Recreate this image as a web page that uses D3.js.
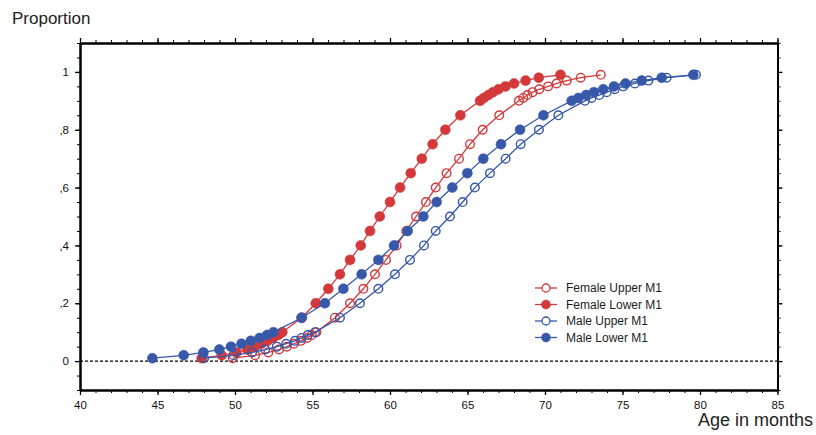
<!DOCTYPE html>
<html>
<head>
<meta charset="utf-8">
<script src="https://cdn.jsdelivr.net/npm/d3@7"></script>
<style>
body { margin: 0; background: #fff; }
svg { font-family: "Liberation Sans", Arial, sans-serif; }
.axis path, .axis line { stroke: #000; }
.axis text { font-size: 11.5px; fill: #111; }
</style>
</head>
<body>
<div id="chart"></div>
<script>
// cumulative proportions, shared by every series
var levels = [0.01, 0.02, 0.03, 0.04, 0.05, 0.06, 0.07, 0.08, 0.09, 0.10,
    0.15, 0.20, 0.25, 0.30, 0.35, 0.40, 0.45, 0.50, 0.55, 0.60, 0.65, 0.70, 0.75, 0.80, 0.85,
    0.90, 0.91, 0.92, 0.93, 0.94, 0.95, 0.96, 0.97, 0.98, 0.99];

// age in months for each level
var femaleUpper = [49.85, 51.3, 52.15, 52.84, 53.35, 53.8, 54.25, 54.65, 54.95, 55.25,
    56.45, 57.42, 58.28, 59.03, 59.74, 60.43, 61.05, 61.68, 62.32, 62.95, 63.65, 64.45, 65.16, 65.98, 67.05,
    68.32, 68.6, 68.86, 69.2, 69.63, 70.2, 70.75, 71.4, 72.3, 73.6];
var femaleLower = [47.85, 49.14, 50.1, 50.8, 51.3, 51.7, 52.1, 52.45, 52.8, 53.05,
    54.3, 55.21, 56.02, 56.77, 57.42, 58.11, 58.71, 59.34, 60.0, 60.65, 61.34, 62.05, 62.75, 63.57, 64.54,
    65.81, 66.05, 66.35, 66.65, 67.0, 67.45, 68.0, 68.75, 69.6, 71.0];
var maleUpper = [48.0, 49.9, 51.1, 51.95, 52.7, 53.3, 53.87, 54.3, 54.7, 55.16,
    56.77, 58.06, 59.25, 60.32, 61.29, 62.19, 62.95, 63.87, 64.69, 65.48, 66.45, 67.46, 68.43, 69.61, 70.86,
    72.58, 73.0, 73.5, 73.98, 74.5, 75.05, 75.8, 76.67, 77.85, 79.74];
var maleLower = [44.67, 46.69, 47.96, 48.99, 49.74, 50.42, 51.02, 51.58, 52.07, 52.48,
    54.3, 55.8, 56.99, 58.17, 59.25, 60.26, 61.14, 62.15, 63.01, 64.02, 64.99, 66.02, 67.16, 68.39, 69.9,
    71.72, 72.15, 72.65, 73.16, 73.76, 74.45, 75.2, 76.24, 77.53, 79.57];

var seriesNames = ["Female Upper M1", "Female Lower M1", "Male Upper M1", "Male Lower M1"];
var seriesAges = [femaleUpper, femaleLower, maleUpper, maleLower];
var seriesColors = ["#d3393a", "#d3393a", "#3757a8", "#3757a8"];
var seriesFilled = [false, true, false, true];

var xTicks = [40, 45, 50, 55, 60, 65, 70, 75, 80, 85];
var yTicks = [0, 0.2, 0.4, 0.6, 0.8, 1];
var yTickLabels = ["0", ",2", ",4", ",6", ",8", "1"];

var width = 816, height = 435;
var plotLeft = 80, plotRight = 777.5, plotTop = 43, plotBottom = 390;

var svg = d3.select("#chart").append("svg")
    .attr("width", width)
    .attr("height", height);

var x = d3.scaleLinear().domain([40, 85]).range([plotLeft, plotRight]);
var y = d3.scaleLinear().domain([-0.1, 1.1]).range([plotBottom, plotTop]);

var xMinor = d3.range(40, 86, 1);
var yMinor = d3.range(-0.1, 1.101, 0.05);

function styleAxis(g, minor) {
    g.attr("class", "axis");
    g.select(".domain").attr("stroke-width", 2);
    g.selectAll(".tick line").attr("stroke-width", minor ? 1 : 1.3);
}

// minor ticks first
svg.append("g").attr("transform", "translate(0," + plotBottom + ")")
    .call(d3.axisBottom(x).tickValues(xMinor).tickSize(3).tickSizeOuter(0).tickFormat(""))
    .call(styleAxis, true);
svg.append("g").attr("transform", "translate(0," + plotTop + ")")
    .call(d3.axisTop(x).tickValues(xMinor).tickSize(3).tickSizeOuter(0).tickFormat(""))
    .call(styleAxis, true);
svg.append("g").attr("transform", "translate(" + plotLeft + ",0)")
    .call(d3.axisLeft(y).tickValues(yMinor).tickSize(3).tickSizeOuter(0).tickFormat(""))
    .call(styleAxis, true);
svg.append("g").attr("transform", "translate(" + plotRight + ",0)")
    .call(d3.axisRight(y).tickValues(yMinor).tickSize(3).tickSizeOuter(0).tickFormat(""))
    .call(styleAxis, true);

// major ticks
svg.append("g").attr("transform", "translate(0," + plotBottom + ")")
    .call(d3.axisBottom(x).tickValues(xTicks).tickSize(5).tickSizeOuter(0).tickPadding(6).tickFormat(d3.format("d")))
    .call(styleAxis, false);
svg.append("g").attr("transform", "translate(0," + plotTop + ")")
    .call(d3.axisTop(x).tickValues(xTicks).tickSize(5).tickSizeOuter(0).tickFormat(""))
    .call(styleAxis, false);
svg.append("g").attr("transform", "translate(" + plotLeft + ",0)")
    .call(d3.axisLeft(y).tickValues(yTicks).tickSize(5).tickSizeOuter(0).tickPadding(6)
        .tickFormat(function(d, i) { return yTickLabels[i]; }))
    .call(styleAxis, false);
svg.append("g").attr("transform", "translate(" + plotRight + ",0)")
    .call(d3.axisRight(y).tickValues(yTicks).tickSize(5).tickSizeOuter(0).tickFormat(""))
    .call(styleAxis, false);

// zero reference line
svg.append("line")
    .attr("x1", plotLeft).attr("x2", plotRight)
    .attr("y1", y(0)).attr("y2", y(0))
    .attr("stroke", "#000")
    .attr("stroke-width", 1.2)
    .attr("stroke-dasharray", "3,2");

// axis titles
svg.append("text")
    .attr("x", 12).attr("y", 24)
    .style("font-size", "17px")
    .attr("fill", "#222")
    .text("Proportion");
svg.append("text")
    .attr("x", 813).attr("y", 426)
    .attr("text-anchor", "end")
    .style("font-size", "18px")
    .attr("fill", "#222")
    .text("Age in months");

var line = d3.line()
    .x(function(d) { return x(d.age); })
    .y(function(d) { return y(d.p); });

seriesAges.forEach(function(ages, s) {
    var data = ages.map(function(a, i) { return { age: a, p: levels[i] }; });
    var g = svg.append("g");
    g.append("path")
        .datum(data)
        .attr("d", line)
        .attr("fill", "none")
        .attr("stroke", seriesColors[s])
        .attr("stroke-width", 1.3);
    g.selectAll("circle")
        .data(data)
        .enter().append("circle")
        .attr("cx", function(d) { return x(d.age); })
        .attr("cy", function(d) { return y(d.p); })
        .attr("r", seriesFilled[s] ? 5 : 4.3)
        .attr("fill", seriesFilled[s] ? seriesColors[s] : "none")
        .attr("stroke", seriesColors[s])
        .attr("stroke-width", seriesFilled[s] ? 0.5 : 1.4);
});

// legend
var legend = svg.append("g").attr("transform", "translate(535,288)");
seriesNames.forEach(function(name, s) {
    var row = legend.append("g").attr("transform", "translate(0," + (s * 16.5) + ")");
    row.append("line")
        .attr("x1", 0).attr("x2", 22)
        .attr("stroke", seriesColors[s])
        .attr("stroke-width", 1.3);
    row.append("circle")
        .attr("cx", 11).attr("r", seriesFilled[s] ? 4.5 : 4)
        .attr("fill", seriesFilled[s] ? seriesColors[s] : "#fff")
        .attr("stroke", seriesColors[s])
        .attr("stroke-width", seriesFilled[s] ? 0.5 : 1.3);
    row.append("text")
        .attr("x", 31).attr("dy", "0.35em")
        .style("font-size", "12px")
        .attr("fill", "#222")
        .text(name);
});
</script>
</body>
</html>
